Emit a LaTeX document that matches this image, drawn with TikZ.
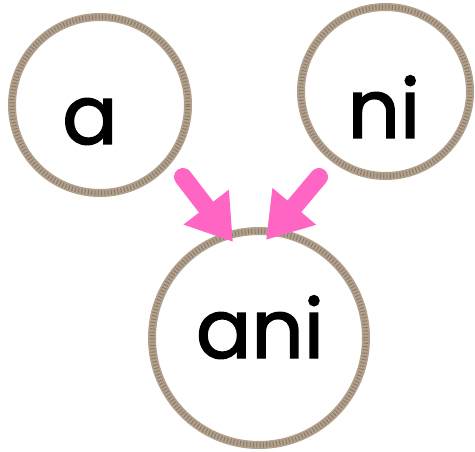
\documentclass[tikz,border=0pt]{standalone}
\usepackage{fontspec}
\setmainfont{Poppins}
\newfontfamily\wordfont{Poppins}[FakeBold=1.8]
\usetikzlibrary{arrows.meta}
\definecolor{ropebase}{RGB}{176,160,140}
\definecolor{ropedark}{RGB}{136,120,102}
\definecolor{pinkarrow}{RGB}{255,102,196}
\tikzset{
  rope/.style={circle, draw=ropebase, line width=8pt, inner sep=0pt,
    postaction={draw=ropedark, line width=5pt, dash pattern=on 0.9pt off 2.4pt}},
  word/.style={anchor=base, font=\wordfont\fontsize{82}{90}\selectfont, text=black, inner sep=0pt},
  pinkarr/.style={draw=pinkarrow, line width=18pt, line cap=round,
    -{Triangle[width=54pt, length=44pt]}},
}
\begin{document}
\begin{tikzpicture}[x=1pt, y=-1pt]
\useasboundingbox (0,0) rectangle (475,452);
\node[rope, minimum size=176pt] (a) at (100,105) {};
\node[rope, minimum size=169pt] (ni) at (385.5,91.5) {};
\node[rope, minimum size=214pt] (ani) at (259,338) {};
\node[word] (ta) at (90,144) {a};
\node[word] (tni) at (384,138) {ni};
\node[word] (tani) at (260,358) {ani};
\coordinate (s1) at (183,177);
\coordinate (e1) at (233,242);
\coordinate (s2) at (319,177);
\coordinate (e2) at (266,240);
\draw[pinkarr] (s1) -- (e1);
\draw[pinkarr] (s2) -- (e2);
\end{tikzpicture}
\end{document}
